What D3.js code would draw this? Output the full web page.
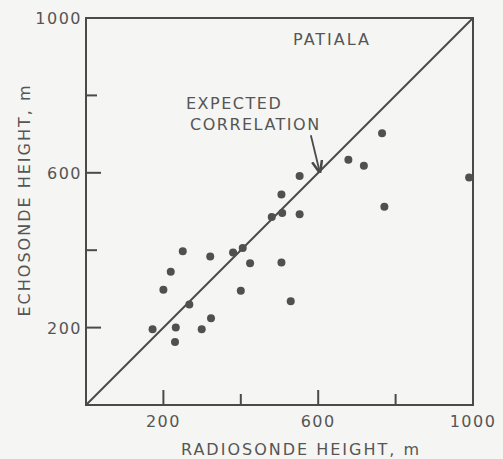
<!DOCTYPE html>
<html><head><meta charset="utf-8">
<script src="https://cdn.jsdelivr.net/npm/d3@7"></script>
<style>
body{margin:0;background:#f5f5f3;}
text{font-family:"DejaVu Sans",sans-serif;fill:#555;}
</style></head>
<body><svg id="c" width="503" height="459"></svg>
<script>
const radiosonde = [172,232,230,200,219,250,267,299,323,321,380,405,424,400,480,507,505,505,529,552,552,678,718,765,771,990];
const echosonde  = [196,200,163,298,344,397,260,196,224,384,394,406,366,295,486,496,544,368,268,592,493,634,618,702,512,588];
const tickValues = [200,400,600,800];
const tickLabels = [200,600,1000];
const expected = [[0,0],[1000,1000]];

const svg = d3.select("#c");
const ink = "#4a4a4a";
const x = d3.scaleLinear().domain([0,1000]).range([86,473]);
const y = d3.scaleLinear().domain([0,1000]).range([405,18]);

// frame
svg.append("rect").attr("x",x(0)).attr("y",y(1000)).attr("width",x(1000)-x(0)).attr("height",y(0)-y(1000))
  .attr("fill","none").attr("stroke",ink).attr("stroke-width",2);

// ticks (inward)
tickValues.forEach(v=>{
  const len = tickLabels.includes(v)?15:11;
  svg.append("line").attr("x1",x(v)).attr("x2",x(v)).attr("y1",y(0)).attr("y2",y(0)-len).attr("stroke",ink).attr("stroke-width",2);
  svg.append("line").attr("x1",x(0)).attr("x2",x(0)+len).attr("y1",y(v)).attr("y2",y(v)).attr("stroke",ink).attr("stroke-width",2);
});
// tick labels
tickLabels.forEach(v=>{
  svg.append("text").attr("x",x(v)).attr("y",y(0)+22).attr("text-anchor","middle")
    .attr("font-size",16).attr("letter-spacing",1.5).text(v);
  svg.append("text").attr("x",x(0)-4).attr("y",y(v)+6).attr("text-anchor","end")
    .attr("font-size",16).attr("letter-spacing",1.5).text(v);
});
// axis titles
svg.append("text").attr("x",301).attr("y",455).attr("text-anchor","middle")
  .attr("font-size",16).attr("letter-spacing",2).text("RADIOSONDE HEIGHT, m");
svg.append("text").attr("transform","translate(30,200) rotate(-90)").attr("text-anchor","middle")
  .attr("font-size",16).attr("letter-spacing",2).text("ECHOSONDE HEIGHT, m");

// expected correlation line
svg.append("path").datum(expected).attr("d",d3.line().x(d=>x(d[0])).y(d=>y(d[1])))
  .attr("stroke",ink).attr("stroke-width",2).attr("fill","none");

// points
svg.selectAll("circle.pt").data(radiosonde).enter().append("circle").attr("class","pt")
  .attr("cx",d=>x(d)).attr("cy",(d,i)=>y(echosonde[i])).attr("r",4).attr("fill","#505050");

// annotations
svg.append("text").attr("x",293).attr("y",45).attr("font-size",16).attr("letter-spacing",2).text("PATIALA");
svg.append("text").attr("x",186).attr("y",109).attr("font-size",16).attr("letter-spacing",1.5).text("EXPECTED");
svg.append("text").attr("x",190).attr("y",130).attr("font-size",16).attr("letter-spacing",1.5).text("CORRELATION");

const defs = svg.append("defs");
defs.append("marker").attr("id","ah").attr("viewBox","0 0 10 10").attr("refX",9).attr("refY",5)
  .attr("markerWidth",7).attr("markerHeight",7).attr("orient","auto")
  .append("path").attr("d","M0,1 L10,5 L0,9").attr("fill","none").attr("stroke",ink).attr("stroke-width",2);
svg.append("line").attr("x1",x(581)).attr("y1",y(697)).attr("x2",x(604)).attr("y2",y(602))
  .attr("stroke",ink).attr("stroke-width",1.8).attr("marker-end","url(#ah)");
</script></body></html>
